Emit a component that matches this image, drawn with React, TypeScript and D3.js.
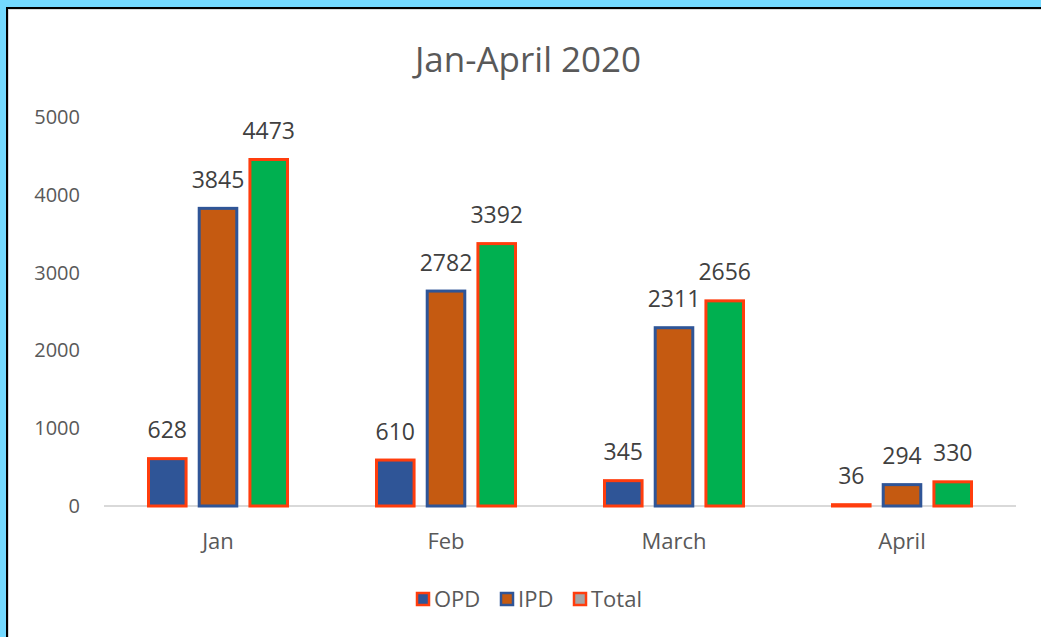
import { useEffect, useRef } from 'react';
import * as d3 from 'd3';

const months = ['Jan', 'Feb', 'March', 'April'];
const series = ['OPD', 'IPD', 'Total'];
const opd = [628, 610, 345, 36];
const ipd = [3845, 2782, 2311, 294];
const total = [4473, 3392, 2656, 330];
const yTicks = [0, 1000, 2000, 3000, 4000, 5000];

const FILL: Record<string, string> = { OPD: '#2f5597', IPD: '#c55a11', Total: '#00b050' };
const STROKE: Record<string, string> = { OPD: '#ff3d0d', IPD: '#2f5597', Total: '#ff3d0d' };
const LEGEND_FILL: Record<string, string> = { OPD: '#2f5597', IPD: '#c55a11', Total: '#a5a5a5' };
const FONT = '"Open Sans", sans-serif';

export default function App() {
  const svgRef = useRef<SVGSVGElement>(null);

  useEffect(() => {
    if (!svgRef.current) return;
    const W = 1041, H = 637;
    const svg = d3.select(svgRef.current);
    svg.selectAll('*').remove();
    svg.attr('width', W).attr('height', H).style('display', 'block');

    // frame
    svg.append('rect').attr('width', W).attr('height', H).attr('fill', '#73d9ff');
    svg.append('rect').attr('x', 6).attr('y', 7).attr('width', W - 6).attr('height', H - 7).attr('fill', '#000');
    svg.append('rect').attr('x', 8).attr('y', 9).attr('width', W - 8).attr('height', H - 9).attr('fill', '#d9d9d9');
    svg.append('rect').attr('x', 9).attr('y', 10).attr('width', W - 9).attr('height', H - 10).attr('fill', '#fff');

    svg.append('text')
      .attr('x', 528).attr('y', 72)
      .attr('text-anchor', 'middle').attr('font-family', FONT).attr('font-size', 35)
      .attr('fill', '#595959').text('Jan-April 2020');

    const x0 = d3.scaleBand<string>().domain(months).range([104, 1016]);
    const x1 = d3.scaleBand<string>().domain(series).range([43, 185]).paddingInner(0.2);
    const y = d3.scaleLinear().domain([0, 5000]).range([506, 117]);

    // y tick labels
    yTicks.forEach(t => {
      svg.append('text')
        .attr('x', 80).attr('y', y(t) + 7)
        .attr('text-anchor', 'end').attr('font-family', FONT).attr('font-size', 20)
        .attr('fill', '#595959').text(t);
    });

    // baseline
    svg.append('line')
      .attr('x1', x0.range()[0]).attr('x2', x0.range()[1])
      .attr('y1', y(0)).attr('y2', y(0))
      .attr('stroke', '#d9d9d9').attr('stroke-width', 2);

    const rows = months.map((m, i) => ({ m, vals: { OPD: opd[i], IPD: ipd[i], Total: total[i] } as Record<string, number> }));
    const sw = 3;

    rows.forEach(r => {
      series.forEach(s => {
        const v = r.vals[s];
        const bx = (x0(r.m) ?? 0) + (x1(s) ?? 0);
        const bw = x1.bandwidth();
        svg.append('rect')
          .attr('x', bx + sw / 2).attr('y', y(v) + sw / 2)
          .attr('width', bw - sw).attr('height', Math.max(0, y(0) - y(v) - sw / 2))
          .attr('fill', FILL[s]).attr('stroke', STROKE[s]).attr('stroke-width', sw);
        svg.append('text')
          .attr('x', bx + bw / 2).attr('y', y(v) - 19)
          .attr('text-anchor', 'middle').attr('font-family', FONT).attr('font-size', 23)
          .attr('fill', '#404040').text(v);
      });
      svg.append('text')
        .attr('x', (x0(r.m) ?? 0) + x0.bandwidth() / 2).attr('y', 549)
        .attr('text-anchor', 'middle').attr('font-family', FONT).attr('font-size', 22)
        .attr('fill', '#595959').text(r.m);
    });

    // legend
    const legendX = [416, 500, 573];
    series.forEach((s, i) => {
      const g = svg.append('g').attr('transform', `translate(${legendX[i]},592)`);
      g.append('rect').attr('x', 1).attr('y', 1).attr('width', 12).attr('height', 12)
        .attr('fill', LEGEND_FILL[s]).attr('stroke', STROKE[s]).attr('stroke-width', 2.5);
      g.append('text').attr('x', 18).attr('y', 15)
        .attr('font-family', FONT).attr('font-size', 22).attr('fill', '#595959').text(s);
    });
  }, []);

  return (
    <div style={{ position: 'fixed', left: 0, top: 0 }}>
      <svg ref={svgRef} />
    </div>
  );
}
